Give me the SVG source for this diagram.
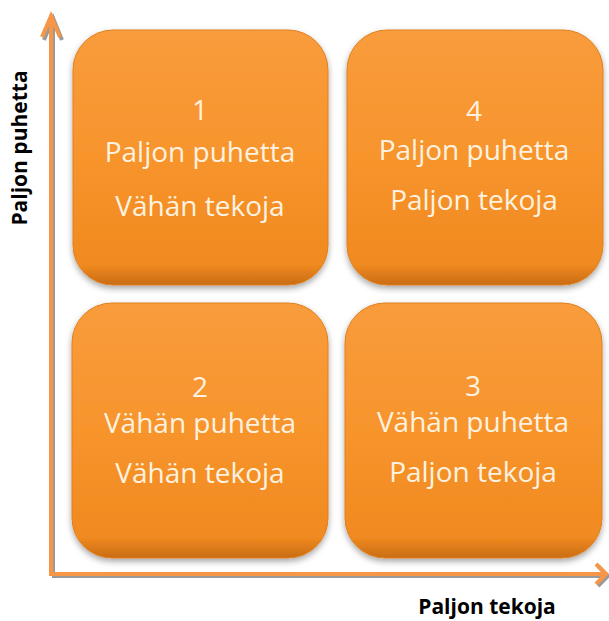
<svg xmlns="http://www.w3.org/2000/svg" width="609" height="621" viewBox="0 0 609 621">
<style>
.box{fill:url(#g);stroke:#e07f1e;stroke-width:1;filter:url(#sh)}
.t{font-family:"Open Sans","Liberation Sans",sans-serif;font-size:28px;fill:#fdf2e0;text-anchor:middle}
.ax{fill:none;stroke:#f79646;stroke-width:4;stroke-linecap:butt;stroke-linejoin:miter}
.axs{fill:none;stroke:#9a9a9a;stroke-width:4;stroke-linejoin:miter}
.lbl{font-family:"Open Sans","Liberation Sans",sans-serif;font-size:21px;font-weight:bold;fill:#000;text-anchor:middle}
</style>
<defs>
<linearGradient id="g" x1="0" y1="0" x2="0" y2="1">
<stop offset="0" stop-color="#f99c3c"/>
<stop offset="0.5" stop-color="#f7942c"/>
<stop offset="0.92" stop-color="#f08a20"/>
<stop offset="1" stop-color="#c96c14"/>
</linearGradient>
<filter id="sh" x="-10%" y="-10%" width="120%" height="125%">
<feDropShadow dx="0" dy="3" stdDeviation="3" flood-color="#000" flood-opacity="0.35"/>
</filter>
</defs>
<g id="connectors">
<path class="axs" d="M53 575 V17 M44 40 L53 18 L62 40"/>
<path class="axs" d="M52 576 H608 M598 566 L608 576 L598 586"/>
<path class="ax" d="M51 573 V15 M42 37 L51 16 L60 37"/>
<path class="ax" d="M49 574 H606 M596 564 L606 574 L596 584"/>
</g>
<g id="box1">
<rect class="box" x="73" y="30" width="255" height="255" rx="40"/>
<text class="t" x="200" y="120">1</text>
<text class="t" x="200" y="162">Paljon puhetta</text>
<text class="t" x="200" y="216">Vähän tekoja</text>
</g>
<g id="box4">
<rect class="box" x="347" y="30" width="256" height="255" rx="40"/>
<text class="t" x="474" y="121">4</text>
<text class="t" x="474" y="160">Paljon puhetta</text>
<text class="t" x="474" y="210">Paljon tekoja</text>
</g>
<g id="box2">
<rect class="box" x="72" y="303" width="256" height="255" rx="40"/>
<text class="t" x="200" y="397">2</text>
<text class="t" x="200" y="433">Vähän puhetta</text>
<text class="t" x="200" y="483">Vähän tekoja</text>
</g>
<g id="box3">
<rect class="box" x="345" y="303" width="257" height="255" rx="40"/>
<text class="t" x="473" y="396">3</text>
<text class="t" x="473" y="432">Vähän puhetta</text>
<text class="t" x="473" y="482">Paljon tekoja</text>
</g>
<g id="labels">
<text class="lbl" transform="translate(27 148) rotate(-90)">Paljon puhetta</text>
<text class="lbl" x="487" y="614">Paljon tekoja</text>
</g>
</svg>
